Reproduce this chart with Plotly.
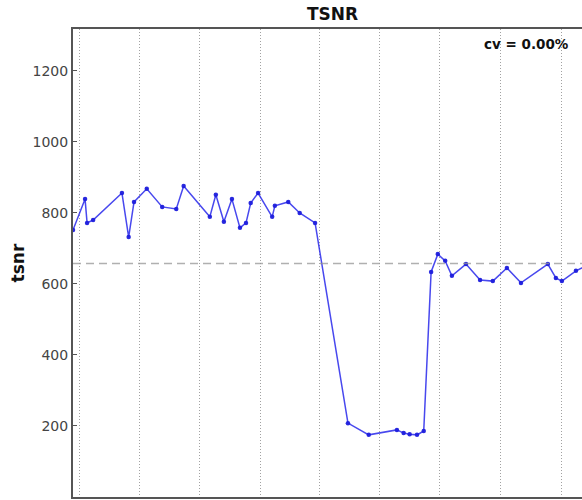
import numpy as np
import plotly.graph_objects as go

# Volume positions (x) and TSNR values
volume = [0.0, 1.8, 2.1, 3.0, 7.3, 8.3, 9.1, 11.0, 13.3, 15.4, 16.5,
          20.4, 21.3, 22.5, 23.7, 24.9, 25.8, 26.5, 27.6, 29.7, 30.1,
          32.1, 33.8, 36.1, 41.0, 44.1, 48.3, 49.3, 50.2, 51.3, 52.3,
          53.4, 54.4, 55.5, 56.5, 58.6, 60.7, 62.6, 64.7, 66.8, 70.8,
          72.0, 72.9, 75.0, 77.0]
tsnr = [752, 839, 772, 780, 856, 732, 831, 868, 817, 811, 876,
        789, 851, 775, 839, 758, 772, 828, 856, 789, 820,
        831, 800, 772, 208, 175, 189, 180, 177, 175, 186,
        634, 684, 665, 623, 656, 611, 608, 645, 603, 656,
        617, 608, 637, 655]
grid_positions = [0.9, 9.9, 18.9, 27.9, 36.8, 45.7, 54.7, 63.8, 72.9]
y_ticks = [200, 400, 600, 800, 1000, 1200]
cv_text = "cv = 0.00%"

mean_val = float(np.mean(tsnr))

fig = go.Figure()
fig.add_trace(go.Scatter(
    x=volume, y=tsnr, mode="lines+markers",
    line=dict(color="rgba(40,40,235,0.85)", width=1.5),
    marker=dict(color="rgba(30,30,220,0.95)", size=4.5),
    showlegend=False, cliponaxis=True,
))
fig.add_shape(type="line", xref="paper", x0=0, x1=1, yref="y",
              y0=mean_val, y1=mean_val,
              line=dict(color="rgba(150,150,150,0.75)", width=1.5, dash="8px,5px"))

fig.update_layout(
    width=582, height=500,
    margin=dict(l=73, r=0, t=29, b=3),
    plot_bgcolor="white", paper_bgcolor="white",
    font=dict(family="DejaVu Sans", color="#444", size=12),
    xaxis=dict(range=[0, 75.9], tickvals=grid_positions, showticklabels=False,
               ticks="", showgrid=True, gridcolor="rgba(100,100,100,0.6)",
               griddash="1px,2px", gridwidth=1, zeroline=False,
               showline=True, mirror=True, linecolor="#555", linewidth=2),
    yaxis=dict(range=[0, 1318], tickvals=y_ticks, ticks="inside", ticklen=4,
               tickcolor="#555", showgrid=False, zeroline=False,
               showline=True, linecolor="#555", linewidth=2,
               tickfont=dict(size=14, color="#444"),
               title=dict(text="<b>tsnr</b>", font=dict(size=17, color="#111"),
                          standoff=4)),
    annotations=[
        dict(text="<b>TSNR</b>", xref="paper", yref="paper",
             x=(332 - 73) / 509, y=1, yshift=3, xanchor="center", yanchor="bottom",
             showarrow=False, font=dict(size=17, color="#111")),
        dict(text="<b>" + cv_text + "</b>", xref="paper", yref="paper",
             x=(571 - 73) / 509, y=1, yshift=-5, xanchor="right", yanchor="top",
             showarrow=False, font=dict(size=13.5, color="#111")),
    ],
)

fig.write_html("out.html")
